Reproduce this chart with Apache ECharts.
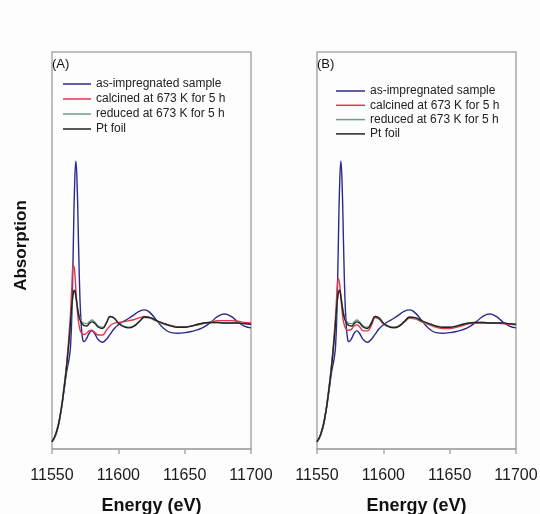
<!DOCTYPE html>
<html>
<head>
<meta charset="utf-8">
<script src="https://cdn.jsdelivr.net/npm/echarts@6/dist/echarts.min.js"></script>
<style>
  html, body { margin: 0; padding: 0; background: #fdfdfd; }
  #chart { width: 540px; height: 514px; }
</style>
</head>
<body>
<div id="chart"></div>
<script>
// Photon energy grid (eV) shared by all spectra
const energy = [11550, 11553, 11556, 11559, 11561, 11563, 11564, 11565, 11566, 11567,
  11568, 11569, 11570, 11571, 11572, 11573, 11574, 11576, 11578, 11580,
  11582, 11585, 11588, 11591, 11594, 11597, 11600, 11604, 11608, 11612,
  11616, 11620, 11624, 11628, 11632, 11636, 11640, 11645, 11650, 11655,
  11660, 11665, 11670, 11675, 11680, 11685, 11690, 11695, 11700];

const seriesNames = ['as-impregnated sample', 'calcined at 673 K for 5 h', 'reduced at 673 K for 5 h', 'Pt foil'];
const panelLabels = ['(A)', '(B)'];
const xTicks = [11550, 11600, 11650, 11700];

// Normalised absorption, panel (A)
const asImpA = [0.00, 0.06, 0.2, 0.42, 0.58, 0.7, 0.8, 1.08, 1.6, 2.12,
  2.34, 2.12, 1.65, 1.22, 0.98, 0.865, 0.835, 0.86, 0.905, 0.925,
  0.905, 0.85, 0.83, 0.855, 0.9, 0.945, 0.975, 1.005, 1.03, 1.06,
  1.09, 1.10, 1.075, 1.025, 0.97, 0.93, 0.91, 0.905, 0.91, 0.92,
  0.935, 0.96, 1.0, 1.045, 1.065, 1.045, 1.0, 0.965, 0.95];
const calcA = [0.00, 0.07, 0.21, 0.45, 0.65, 0.92, 1.08, 1.30, 1.47, 1.43,
  1.27, 1.11, 1.00, 0.94, 0.91, 0.90, 0.895, 0.905, 0.925, 0.93,
  0.915, 0.89, 0.89, 0.93, 0.97, 0.99, 0.995, 1.0, 1.01, 1.02,
  1.035, 1.045, 1.035, 1.015, 0.995, 0.98, 0.97, 0.96, 0.96, 0.965,
  0.975, 0.99, 1.0, 1.01, 1.01, 1.01, 1.005, 0.995, 0.99];
const redA = [0.00, 0.07, 0.21, 0.44, 0.63, 0.86, 1.00, 1.13, 1.23, 1.255,
  1.21, 1.14, 1.075, 1.035, 1.01, 0.995, 0.99, 0.985, 1.0, 1.015,
  1.0, 0.965, 0.955, 0.995, 1.045, 1.03, 0.99, 0.965, 0.955, 0.97,
  1.005, 1.035, 1.03, 1.01, 0.99, 0.975, 0.965, 0.955, 0.955, 0.965,
  0.98, 0.99, 0.995, 0.995, 0.99, 0.99, 0.99, 0.985, 0.98];
const ptA = [0.00, 0.07, 0.21, 0.44, 0.63, 0.86, 1.00, 1.14, 1.24, 1.265,
  1.21, 1.13, 1.06, 1.02, 0.995, 0.98, 0.97, 0.965, 0.985, 1.00,
  0.99, 0.955, 0.945, 0.99, 1.045, 1.03, 0.99, 0.96, 0.95, 0.965,
  1.005, 1.04, 1.035, 1.015, 0.995, 0.98, 0.965, 0.955, 0.955, 0.965,
  0.98, 0.99, 0.995, 0.995, 0.99, 0.99, 0.99, 0.985, 0.98];

// Normalised absorption, panel (B)
const asImpB = [0.00, 0.06, 0.2, 0.42, 0.58, 0.7, 0.8, 1.08, 1.6, 2.12,
  2.34, 2.12, 1.65, 1.22, 0.98, 0.865, 0.835, 0.86, 0.905, 0.925,
  0.905, 0.85, 0.83, 0.855, 0.9, 0.945, 0.975, 1.005, 1.03, 1.06,
  1.09, 1.10, 1.075, 1.025, 0.97, 0.93, 0.91, 0.905, 0.91, 0.92,
  0.935, 0.96, 1.0, 1.045, 1.065, 1.045, 1.0, 0.965, 0.95];
const calcB = [0.00, 0.07, 0.21, 0.45, 0.65, 0.9, 1.05, 1.24, 1.36, 1.32,
  1.2, 1.08, 1.0, 0.96, 0.94, 0.93, 0.93, 0.94, 0.965, 0.975,
  0.96, 0.925, 0.925, 0.97, 1.035, 1.02, 0.985, 0.96, 0.955, 0.965,
  1.0, 1.03, 1.025, 1.005, 0.985, 0.97, 0.955, 0.945, 0.945, 0.955,
  0.97, 0.985, 0.99, 0.99, 0.99, 0.99, 0.985, 0.98, 0.975];
const redB = [0.00, 0.07, 0.21, 0.44, 0.63, 0.86, 1.00, 1.13, 1.23, 1.255,
  1.21, 1.14, 1.075, 1.035, 1.01, 0.995, 0.99, 0.985, 1.0, 1.015,
  1.0, 0.965, 0.955, 0.995, 1.045, 1.03, 0.99, 0.965, 0.955, 0.97,
  1.005, 1.035, 1.03, 1.01, 0.99, 0.975, 0.965, 0.955, 0.955, 0.965,
  0.98, 0.99, 0.995, 0.995, 0.99, 0.99, 0.99, 0.985, 0.98];
const ptB = [0.00, 0.07, 0.21, 0.44, 0.63, 0.86, 1.00, 1.14, 1.24, 1.265,
  1.21, 1.13, 1.06, 1.02, 0.995, 0.98, 0.97, 0.965, 0.985, 1.00,
  0.99, 0.955, 0.945, 0.99, 1.045, 1.03, 0.99, 0.96, 0.95, 0.965,
  1.005, 1.04, 1.035, 1.015, 0.995, 0.98, 0.965, 0.955, 0.955, 0.965,
  0.98, 0.99, 0.995, 0.995, 0.99, 0.99, 0.99, 0.985, 0.98];

const colors = ['#2b2b8c', '#e3364e', '#6e9d86', '#222222'];
const FONT = 'Liberation Sans, Arial, sans-serif';
const frameColor = '#a9a9a9';

const panels = [
  { left: 52, values: [asImpA, calcA, redA, ptA], legendLeft: 63, legendTop: 78, legendGap: 3, legendW: 28 },
  { left: 317, values: [asImpB, calcB, redB, ptB], legendLeft: 336, legendTop: 85, legendGap: 2.3, legendW: 29 }
];

const grids = [], xAxes = [], yAxes = [], series = [], legends = [], titles = [];

panels.forEach((p, i) => {
  grids.push({
    left: p.left, top: 52, width: 199, height: 397,
    outerBoundsMode: 'none', containLabel: false,
    show: true, borderColor: frameColor, borderWidth: 1.5, backgroundColor: 'transparent'
  });
  xAxes.push({
    gridIndex: i, type: 'value', min: xTicks[0], max: xTicks[xTicks.length - 1], interval: 50,
    name: 'Energy (eV)', nameLocation: 'middle', nameGap: 48,
    nameTextStyle: { fontFamily: FONT, fontSize: 18, fontWeight: 'bold', color: '#111' },
    axisLine: { show: true, onZero: false, lineStyle: { color: frameColor, width: 1.5 } },
    axisTick: { show: true, inside: false, length: 5, lineStyle: { color: frameColor, width: 1.5 } },
    axisLabel: { fontFamily: FONT, fontSize: 16, color: '#1a1a1a', margin: 19, formatter: v => String(v) },
    splitLine: { show: false }
  });
  yAxes.push({
    gridIndex: i, type: 'value', min: -0.06, max: 3.25,
    name: i === 0 ? 'Absorption' : '', nameLocation: 'middle', nameGap: 22,
    nameTextStyle: { fontFamily: FONT, fontSize: 17, fontWeight: 'bold', color: '#111', padding: [0, 0, 0, 10] },
    axisLine: { show: false }, axisTick: { show: false }, axisLabel: { show: false },
    splitLine: { show: false }
  });
  seriesNames.forEach((name, k) => {
    series.push({
      name, type: 'line', xAxisIndex: i, yAxisIndex: i,
      data: energy.map((e, j) => [e, p.values[k][j]]),
      showSymbol: false, symbol: 'none', smooth: 0.5,
      lineStyle: { color: colors[k], width: 1.4 }, itemStyle: { color: colors[k] },
      silent: true, animation: false
    });
  });
  legends.push({
    data: seriesNames, orient: 'vertical', left: p.legendLeft, top: p.legendTop,
    icon: 'rect', itemWidth: p.legendW, itemHeight: 1.5, itemGap: p.legendGap, padding: 0,
    selectedMode: false,
    textStyle: { fontFamily: FONT, fontSize: 12, color: '#222', lineHeight: 12 }
  });
  titles.push({
    text: panelLabels[i], left: p.left, top: 58, padding: 0,
    textStyle: { fontFamily: FONT, fontSize: 13, fontWeight: 'normal', color: '#111' }
  });
});

const chart = echarts.init(document.getElementById('chart'), null, { renderer: 'canvas' });
chart.setOption({
  backgroundColor: '#fdfdfd',
  animation: false,
  title: titles,
  legend: legends,
  grid: grids,
  xAxis: xAxes,
  yAxis: yAxes,
  series
});
</script>
</body>
</html>
